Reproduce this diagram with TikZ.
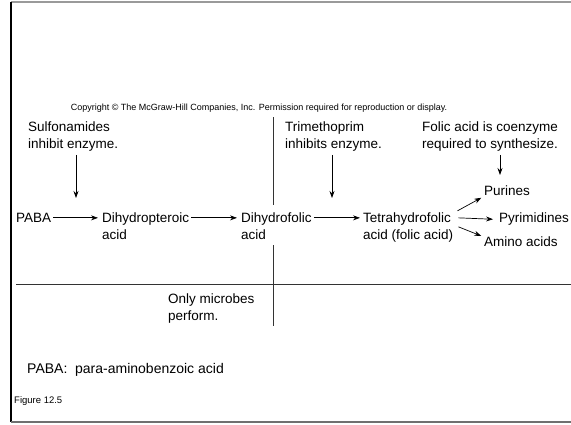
\documentclass[tikz,border=0pt]{standalone}
\usepackage{fontspec}
\setmainfont{Liberation Sans}
\usetikzlibrary{arrows.meta}

\tikzstyle{step-text}=[inner sep=0pt, anchor=north west, align=left, font=\fontsize{13.5}{17}\selectfont]
\tikzstyle{flow}=[-{Stealth[length=7pt,width=5pt]}, line width=0.7pt]
\tikzstyle{divider}=[line width=0.7pt, black!80]
\definecolor{frame-top}{HTML}{9A9A9A}
\definecolor{frame-bottom}{HTML}{707070}

\begin{document}
\begin{tikzpicture}[x=1pt, y=-1pt]
      \useasboundingbox (0,0) rectangle (571,424);
      \draw[line width=1.5pt, frame-top] (11,2) -- (571,2);
      \draw[line width=1.2pt] (11,2) -- (11,422);
      \draw[line width=2pt, frame-bottom] (11,422) -- (571,422);

      \node (copyright) at (259,108) [inner sep=0pt, font=\fontsize{9}{10}\selectfont] {Copyright © The McGraw-Hill Companies, Inc. Permission required for reproduction or display.};

      % notes above the pathway
      \node (note-sulfa) at (28,122) [step-text] {Sulfonamides\\inhibit enzyme.};
      \node (note-trim)  at (285,122) [step-text] {Trimethoprim\\inhibits enzyme.};
      \node (note-folic) at (422,122) [step-text] {Folic acid is coenzyme\\required to synthesize.};

      % pathway
      \node (step-paba)  at (16,213)  [step-text] {PABA};
      \node (step-dhp)   at (102,213) [step-text] {Dihydropteroic\\acid};
      \node (step-dhf)   at (241,213) [step-text] {Dihydrofolic\\acid};
      \node (step-thf)   at (363,213) [step-text] {Tetrahydrofolic\\acid (folic acid)};
      \node (step-pur)   at (484,186) [step-text] {Purines};
      \node (step-pyr)   at (499,213) [step-text] {Pyrimidines};
      \node (step-amino) at (484,237) [step-text] {Amino acids};

      \node (note-microbes) at (168,294) [step-text] {Only microbes\\perform.};
      \node (note-paba)     at (27,363)  [step-text, font=\fontsize{14}{17}\selectfont] {PABA:\ \ para-aminobenzoic acid};
      \node (figure)        at (14,396)  [step-text, font=\fontsize{9.5}{11}\selectfont] {Figure 12.5};

      % dividers
      \coordinate (div-top)    at (273,117);
      \coordinate (div-mid1)   at (273,205);
      \coordinate (div-mid2)   at (273,245);
      \coordinate (div-bottom) at (273,326);
      \coordinate (div-left)   at (16,284);
      \coordinate (div-right)  at (571,284);
      \draw[divider] (div-top) -- (div-mid1);
      \draw[divider] (div-mid2) -- (div-bottom);
      \draw[divider] (div-left) -- (div-right);

      % inhibitor arrows
      \coordinate (tip-sulfa) at (76,198);
      \coordinate (tip-trim)  at (332,198);
      \coordinate (tip-folic) at (500,175);
      \draw[flow] (note-sulfa.south -| tip-sulfa) ++(0,3) -- (tip-sulfa);
      \draw[flow] (note-trim.south -| tip-trim) ++(0,3) -- (tip-trim);
      \draw[flow] (note-folic.south -| tip-folic) ++(0,3) -- (tip-folic);

      % reactions
      \draw[flow, shorten <=2pt, shorten >=4pt] (step-paba.east) -- (step-paba.east -| step-dhp.west);
      \draw[flow, shorten <=2pt, shorten >=4pt] (step-dhp.east |- step-paba.east) -- (step-dhf.west |- step-paba.east);
      \draw[flow, shorten <=2pt, shorten >=3pt] (step-dhf.east |- step-paba.east) -- (step-thf.west |- step-paba.east);
      \draw[flow, shorten >=3pt] ([xshift=4pt]step-thf.east |- step-paba.east) ++(0,-7) -- (step-pur.south west);
      \draw[flow, shorten >=6pt] ([xshift=5pt]step-thf.east |- step-paba.east) -- (step-pyr.west);
      \draw[flow, shorten >=3pt] ([xshift=5pt]step-thf.east |- step-paba.east) ++(0,9) -- (step-amino.north west);
\end{tikzpicture}
\end{document}
